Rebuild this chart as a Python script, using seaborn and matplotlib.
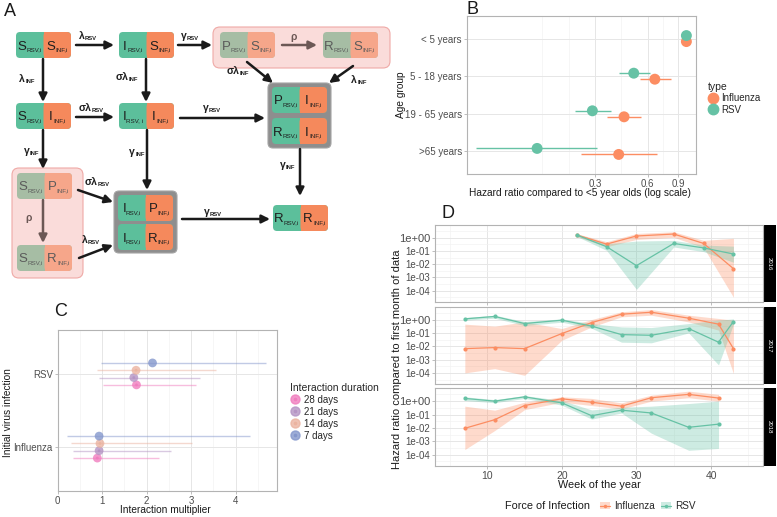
import numpy as np
import pandas as pd
import matplotlib
matplotlib.use("Agg")
import matplotlib.pyplot as plt
import seaborn as sns
from matplotlib.patches import FancyBboxPatch, Rectangle, Patch
from matplotlib.lines import Line2D

# ---------------- data ----------------
# B: hazard ratio compared to <5 year olds
age_groups = ["< 5 years", "5 - 18 years", "19 - 65 years", ">65 years"]
b_flu_hr = [1.0, 0.66, 0.44, 0.41]
b_flu_lo = [1.0, 0.54, 0.35, 0.25]
b_flu_hi = [1.0, 0.82, 0.55, 0.68]
b_rsv_hr = [1.0, 0.50, 0.29, 0.14]
b_rsv_lo = [1.0, 0.41, 0.23, 0.063]
b_rsv_hi = [1.0, 0.62, 0.37, 0.31]

# C: interaction multiplier by initial infection and duration
durations = ["28 days", "21 days", "14 days", "7 days"]
c_rsv_mult = [1.77, 1.71, 1.76, 2.13]
c_rsv_lo = [1.02, 0.93, 0.88, 0.97]
c_rsv_hi = [3.10, 3.20, 3.55, 4.67]
c_flu_mult = [0.89, 0.93, 0.95, 0.93]
c_flu_lo = [0.34, 0.34, 0.30, 0.20]
c_flu_hi = [2.28, 2.55, 3.02, 4.31]

# D: force of infection hazard ratio by week
years = ["2016", "2017", "2018"]
d16_weeks = [22, 26, 30, 35, 39, 43]
d16_flu = [1.6, 0.33, 1.35, 1.9, 0.37, 0.0046]
d16_flu_lo = [1.25, 0.21, 0.74, 1.07, 0.18, 3.2e-5]
d16_flu_hi = [2.0, 0.5, 2.1, 2.8, 0.63, 0.9]
d16_rsv = [1.6, 0.21, 0.0078, 0.37, 0.17, 0.059]
d16_rsv_lo = [1.25, 0.11, 1.26e-4, 0.2, 0.089, 0.014]
d16_rsv_hi = [2.0, 0.35, 0.56, 0.63, 0.28, 0.23]

d17_weeks = [7, 11, 15, 20, 24, 28, 32, 37, 41, 43]
d17_flu = [0.0066, 0.0079, 0.0066, 0.089, 0.59, 2.5, 3.5, 1.26, 0.45, 0.0066]
d17_flu_lo = [1e-4, 2.1e-4, 6.6e-5, 0.028, 0.28, 1.6, 2.1, 0.66, 0.16, 8.9e-5]
d17_flu_hi = [0.45, 0.32, 0.66, 0.21, 1.0, 3.8, 5.6, 2.1, 1.2, 0.89]
d17_rsv = [1.12, 1.7, 0.5, 0.89, 0.32, 0.074, 0.066, 0.21, 0.02, 0.71]
d17_rsv_lo = [0.89, 1.26, 0.35, 0.63, 0.22, 0.02, 0.018, 0.1, 4e-4, 0.45]
d17_rsv_hi = [1.4, 2.1, 0.71, 1.12, 0.5, 0.28, 0.25, 0.5, 0.9, 1.12]

d18_weeks = [7, 11, 15, 20, 24, 28, 32, 37, 41]
d18_flu = [0.0093, 0.041, 0.47, 1.5, 0.83, 0.42, 1.8, 3.2, 1.7]
d18_flu_lo = [2.4e-4, 0.0063, 0.23, 0.83, 0.47, 0.26, 1.0, 1.8, 1.0]
d18_flu_hi = [0.42, 0.21, 0.83, 2.1, 1.6, 0.74, 2.8, 5.6, 3.2]
d18_rsv = [1.6, 1.0, 2.1, 0.74, 0.081, 0.21, 0.13, 0.011, 0.019]
d18_rsv_lo = [1.12, 0.76, 1.6, 0.5, 0.045, 0.13, 0.004, 2.1e-4, 2.9e-4]
d18_rsv_hi = [2.1, 1.3, 2.6, 1.12, 0.22, 0.35, 0.42, 0.66, 1.0]

# ---------------- style ----------------
sns.set_theme(style="whitegrid")
plt.rcParams["font.family"] = ["Liberation Sans", "DejaVu Sans"]
plt.rcParams["axes.unicode_minus"] = False

ORANGE = "#FC8D62"
GREEN = "#66C2A5"
pal = {"Influenza": ORANGE, "RSV": GREEN}
dur_pal = {"28 days": "#F07DBE", "21 days": "#B594C4", "14 days": "#EBB3A0", "7 days": "#8497CC"}

W, H = 777, 517
fig = plt.figure(figsize=(W / 100, H / 100), dpi=100)
fig.patch.set_facecolor("white")


def px_rect(l, t, r, b):
    return [l / W, 1 - b / H, (r - l) / W, (b - t) / H]


def style_axes(ax):
    ax.set_facecolor("white")
    for s in ax.spines.values():
        s.set_visible(True)
        s.set_color("#B3B3B3")
        s.set_linewidth(0.8)
    ax.tick_params(which="major", left=True, bottom=True, length=2, width=0.6,
                   color="#B3B3B3", labelsize=7, labelcolor="#4D4D4D", pad=1.5)
    ax.tick_params(which="minor", length=0)
    ax.grid(True, which="major", color="#E6E6E6", lw=0.7)
    ax.grid(True, which="minor", color="#F2F2F2", lw=0.45)
    ax.set_axisbelow(True)
    ax.set_xlabel("")
    ax.set_ylabel("")


# ---------------- panel A (diagram) ----------------
axA = fig.add_axes([0, 0, 1, 1])
axA.set_xlim(0, W)
axA.set_ylim(H, 0)
axA.axis("off")
renderer = fig.canvas.get_renderer()


def sub_text(x, y, main, sub, size, subsize, color, weight="normal", drop=1.5):
    t1 = axA.text(0, 0, main, fontsize=size, color=color, weight=weight, va="baseline", ha="left")
    t2 = axA.text(0, 0, sub, fontsize=subsize, color=color, weight=weight, va="baseline", ha="left")
    w1 = t1.get_window_extent(renderer).width
    w2 = t2.get_window_extent(renderer).width if sub else 0
    x0 = x - (w1 + w2) / 2
    t1.set_position((x0, y))
    t2.set_position((x0 + w1, y + drop))


# background groups
axA.add_patch(FancyBboxPatch((213, 27), 177, 41, boxstyle="round,pad=0,rounding_size=7",
                             fc="#FADCDA", ec="#EFA9A6", lw=0.8))
axA.add_patch(FancyBboxPatch((12, 168), 71, 110, boxstyle="round,pad=0,rounding_size=7",
                             fc="#FADCDA", ec="#EFA9A6", lw=0.8))
axA.add_patch(FancyBboxPatch((268, 83), 63, 65, boxstyle="round,pad=0,rounding_size=5",
                             fc="#8E8E8E", ec="#A5A5A5", lw=0.8))
axA.add_patch(FancyBboxPatch((114, 191), 63, 62, boxstyle="round,pad=0,rounding_size=5",
                             fc="#8E8E8E", ec="#A5A5A5", lw=0.8))

boxes = [
    (16, 32, "S", "RSV,i", "S", "INF,i", False),
    (119, 32, "I", "RSV,i", "S", "INF,i", False),
    (220, 32, "P", "RSV,i", "S", "INF,i", True),
    (323, 32, "R", "RSV,i", "S", "INF,i", True),
    (16, 103, "S", "RSV,i", "I", "INF,i", False),
    (119, 103, "I", "RSV, i", "I", "INF,i", False),
    (272, 87, "P", "RSV,i", "I", "INF,i", False),
    (272, 118, "R", "RSV,i", "I", "INF,i", False),
    (17, 173, "S", "RSV,i", "P", "INF,i", True),
    (17, 245, "S", "RSV,i", "R", "INF,i", True),
    (118, 195, "I", "RSV,i", "P", "INF,i", False),
    (118, 224, "I", "RSV,i", "R", "INF,i", False),
    (273, 205, "R", "RSV,i", "R", "INF,i", False),
]
BW, BH = 55, 26
for x0, y0, lm, ls, rm, rs, faded in boxes:
    gc = "#A6BDA4" if faded else "#5CBF9B"
    oc = "#F6A68A" if faded else "#F5895C"
    tc = "#5A5A5A" if faded else "#1E1E1E"
    axA.add_patch(FancyBboxPatch((x0, y0), BW, BH, boxstyle="round,pad=0,rounding_size=4",
                                 fc=gc, ec="none"))
    axA.add_patch(FancyBboxPatch((x0 + BW / 2, y0), BW / 2, BH, boxstyle="round,pad=0,rounding_size=4",
                                 fc=oc, ec="none"))
    axA.add_patch(Rectangle((x0 + BW / 2, y0), 5, BH, fc=oc, ec="none"))
    sub_text(x0 + BW / 4, y0 + 17.5, lm, ls, 9.5, 4.5, tc)
    sub_text(x0 + 3 * BW / 4, y0 + 17.5, rm, rs, 9.5, 4.5, tc)

RHO = "#6B5855"
arrows = [
    (76, 45, 114, 45, "k"), (178, 45, 212, 45, "k"), (282, 45, 317, 45, RHO),
    (43, 59, 43, 102, "k"), (146, 59, 146, 102, "k"),
    (247, 62, 273, 83, "k"), (353, 66, 329, 83, "k"),
    (76, 117, 114, 117, "k"), (180, 118, 265, 118, "k"),
    (43, 130, 43, 169, "k"), (147, 130, 147, 190, "k"), (300, 149, 300, 196, "k"),
    (43, 200, 43, 243, RHO),
    (78, 190, 113, 202, "k"), (79, 258, 113, 245, "k"),
    (182, 219, 270, 219, "k"),
]
for xa, ya, xb, yb, col in arrows:
    axA.annotate("", xy=(xb, yb), xytext=(xa, ya),
                 arrowprops=dict(arrowstyle="-|>", color=col, lw=1.8, mutation_scale=12,
                                 shrinkA=0, shrinkB=0))

arrow_labels = [
    (88, 39, "λ", "RSV"), (190, 39, "γ", "RSV"), (294, 40, "ρ", ""),
    (27, 82, "λ", "INF"), (127, 80, "σλ", "INF"), (238, 74, "σλ", "INF"), (359, 83, "λ", "INF"),
    (91, 111, "σλ", "RSV"), (212, 111, "γ", "RSV"),
    (32, 154, "γ", "INF"), (137, 155, "γ", "INF"), (288, 168, "γ", "INF"),
    (29, 221, "ρ", ""), (97, 185, "σλ", "RSV"), (91, 243, "λ", "RSV"), (213, 215, "γ", "RSV"),
]
for x, y, m, s in arrow_labels:
    col = RHO if m == "ρ" else "#1E1E1E"
    sub_text(x, y, m, s, 7.5, 4.2, col, weight="bold", drop=1)

# panel letters
for letter, x, y in [("A", 10, 11), ("B", 472, 9), ("C", 61, 311), ("D", 448, 214)]:
    axA.text(x, y, letter, fontsize=13, ha="center", va="center", color="#1A1A1A")

# ---------------- panel B ----------------
dfB = pd.concat([
    pd.DataFrame({"age": age_groups, "hr": b_flu_hr, "lo": b_flu_lo, "hi": b_flu_hi, "type": "Influenza"}),
    pd.DataFrame({"age": age_groups, "hr": b_rsv_hr, "lo": b_rsv_lo, "hi": b_rsv_hi, "type": "RSV"}),
], ignore_index=True)
dfB["ypos"] = dfB["age"].map({a: i for i, a in enumerate(age_groups)}) + dfB["type"].map({"RSV": -0.08, "Influenza": 0.08})

axB = fig.add_axes(px_rect(466.7, 16, 696, 174))
for t, g in dfB.groupby("type"):
    axB.hlines(g["ypos"], g["lo"], g["hi"], colors=pal[t], lw=1.0, zorder=2)
sns.scatterplot(data=dfB, x="hr", y="ypos", hue="type", palette=pal, s=62, linewidth=0,
                legend=False, ax=axB, zorder=3)
axB.set_xscale("log")
axB.set_xlim(0.0554, 1.135)
axB.set_xticks([0.3, 0.6, 0.9])
axB.set_xticklabels(["0.3", "0.6", "0.9"])
axB.set_xticks([0.15, 0.212, 0.424, 0.735], minor=True)
axB.xaxis.set_minor_formatter(matplotlib.ticker.NullFormatter())
axB.set_yticks(range(len(age_groups)))
axB.set_yticklabels(age_groups)
axB.set_ylim(3.6, -0.6)
style_axes(axB)
axB.grid(False, which="minor", axis="y")
fig.text(580 / W, 1 - 193 / H, "Hazard ratio compared to <5 year olds (log scale)",
         fontsize=7.3, ha="center", va="center", color="#1A1A1A")
fig.text(401 / W, 1 - 95 / H, "Age group", fontsize=7.3, rotation=90,
         ha="center", va="center", color="#1A1A1A")
hB = [Line2D([], [], marker="o", ls="", color=pal[k], markersize=7.5) for k in ["Influenza", "RSV"]]
axB.legend(hB, ["Influenza", "RSV"], title="type", loc="upper left",
           bbox_to_anchor=(703 / W, 1 - 77 / H), bbox_transform=fig.transFigure,
           frameon=False, fontsize=7, title_fontsize=7.5, alignment="left",
           borderpad=0, labelspacing=0.15, handlelength=1.0, handletextpad=0.4)

# ---------------- panel C ----------------
dfC = pd.concat([
    pd.DataFrame({"duration": durations, "mult": c_flu_mult, "lo": c_flu_lo, "hi": c_flu_hi, "infection": "Influenza"}),
    pd.DataFrame({"duration": durations, "mult": c_rsv_mult, "lo": c_rsv_lo, "hi": c_rsv_hi, "infection": "RSV"}),
], ignore_index=True)
dur_offset = {"7 days": 0.15, "14 days": 0.05, "21 days": -0.05, "28 days": -0.15}
dfC["ypos"] = dfC["infection"].map({"Influenza": 0, "RSV": 1}) + dfC["duration"].map(dur_offset)

axC = fig.add_axes(px_rect(57.7, 330, 276.7, 491))
for d, g in dfC.groupby("duration"):
    axC.hlines(g["ypos"], g["lo"], g["hi"], colors=dur_pal[d], lw=1.0, alpha=0.5, zorder=2)
sns.scatterplot(data=dfC, x="mult", y="ypos", hue="duration", palette=dur_pal, s=40,
                linewidth=0, alpha=0.8, legend=False, ax=axC, zorder=3)
sns.scatterplot(data=dfC[dfC["duration"] != "7 days"], x="mult", y="ypos", hue="duration",
                palette=dur_pal, s=4, linewidth=0, legend=False, ax=axC, zorder=4)
axC.set_xlim(0, 4.92)
axC.set_xticks([0, 1, 2, 3, 4])
axC.set_xticks([0.5, 1.5, 2.5, 3.5, 4.5], minor=True)
axC.set_yticks([0, 1])
axC.set_yticklabels(["Influenza", "RSV"])
axC.set_ylim(-0.6, 1.6)
style_axes(axC)
axC.grid(False, which="minor", axis="y")
fig.text(165 / W, 1 - 510 / H, "Interaction multiplier", fontsize=7.3,
         ha="center", va="center", color="#1A1A1A")
fig.text(8 / W, 1 - 413 / H, "Initial virus infection", fontsize=7.3, rotation=90,
         ha="center", va="center", color="#1A1A1A")
hC = [(Line2D([], [], marker="o", ls="", color=dur_pal[d], alpha=0.8, markersize=6.5),
       Line2D([], [], marker="o", ls="", color=dur_pal[d], markersize=1.6)) for d in durations]
axC.legend(hC, durations, title="Interaction duration", loc="upper left",
           bbox_to_anchor=(285 / W, 1 - 378 / H), bbox_transform=fig.transFigure,
           frameon=False, fontsize=7, title_fontsize=7.5, alignment="left",
           borderpad=0, labelspacing=0.2, handlelength=1.0, handletextpad=0.5)

# ---------------- panel D ----------------
def year_frame(year, weeks, flu, flu_lo, flu_hi, rsv, rsv_lo, rsv_hi):
    a = pd.DataFrame({"week": weeks, "hr": flu, "lo": flu_lo, "hi": flu_hi, "type": "Influenza"})
    b = pd.DataFrame({"week": weeks, "hr": rsv, "lo": rsv_lo, "hi": rsv_hi, "type": "RSV"})
    return pd.concat([a, b], ignore_index=True).assign(year=year)


dfD = pd.concat([
    year_frame("2016", d16_weeks, d16_flu, d16_flu_lo, d16_flu_hi, d16_rsv, d16_rsv_lo, d16_rsv_hi),
    year_frame("2017", d17_weeks, d17_flu, d17_flu_lo, d17_flu_hi, d17_rsv, d17_rsv_lo, d17_rsv_hi),
    year_frame("2018", d18_weeks, d18_flu, d18_flu_lo, d18_flu_hi, d18_rsv, d18_rsv_lo, d18_rsv_hi),
], ignore_index=True)

panel_rows = [(225, 301.7), (306.7, 384), (388.3, 465.7)]
for i, (yr, (top, bot)) in enumerate(zip(years, panel_rows)):
    ax = fig.add_axes(px_rect(435, top, 763.3, bot))
    sub = dfD[dfD["year"] == yr]
    for t in ["Influenza", "RSV"]:
        g = sub[sub["type"] == t]
        ax.fill_between(g["week"], g["lo"], g["hi"], color=pal[t], alpha=0.32, lw=0, zorder=1)
    sns.lineplot(data=sub, x="week", y="hr", hue="type", palette=pal, marker="o",
                 markersize=3, markeredgewidth=0, linewidth=0.9, errorbar=None,
                 legend=False, ax=ax, zorder=3)
    ax.set_yscale("log")
    ax.set_ylim(10 ** -4.83, 10 ** 0.96)
    ax.set_yticks([1e-4, 1e-3, 1e-2, 1e-1, 1])
    ax.set_yticklabels(["1e-04", "1e-03", "1e-02", "1e-01", "1e+00"])
    ax.set_yticks([3.16e-5, 3.16e-4, 3.16e-3, 3.16e-2, 0.316, 3.16], minor=True)
    ax.yaxis.set_minor_formatter(matplotlib.ticker.NullFormatter())
    ax.set_xlim(3, 47)
    ax.set_xticks([10, 20, 30, 40])
    ax.set_xticks([5, 15, 25, 35, 45], minor=True)
    style_axes(ax)
    ax.tick_params(axis="x", labelsize=7.5)
    ax.get_yticklabels()[-1].set_fontsize(8)
    if i < 2:
        ax.tick_params(axis="x", labelbottom=False)
    ax.add_patch(Rectangle((1.0, 0), 0.0387, 1, transform=ax.transAxes, fc="black",
                           ec="none", clip_on=False))
    ax.text(1.0194, 0.5, yr, transform=ax.transAxes, rotation=-90, color="white",
            fontsize=4.3, ha="center", va="center")

fig.text(599 / W, 1 - 485 / H, "Week of the year", fontsize=7.8,
         ha="center", va="center", color="#1A1A1A")
fig.text(397 / W, 1 - 359 / H, "Hazard ratio compared to first month of data", fontsize=8,
         rotation=90, ha="center", va="center", color="#1A1A1A")
fig.text(505 / W, 1 - 506 / H, "Force of Infection", fontsize=7.8,
         ha="left", va="center", color="#1A1A1A")
hD = [(Patch(facecolor=pal[t], alpha=0.32, lw=0),
       Line2D([], [], color=pal[t], marker="o", markersize=2.5, markeredgewidth=0, lw=0.9))
      for t in ["Influenza", "RSV"]]
fig.legend(hD, ["Influenza", "RSV"], loc="center left", bbox_to_anchor=(595 / W, 1 - 506 / H),
           ncol=2, frameon=False, fontsize=7.2, borderpad=0, handlelength=1.0,
           handletextpad=0.4, columnspacing=0.6)

fig.savefig("out.png", dpi=100)
